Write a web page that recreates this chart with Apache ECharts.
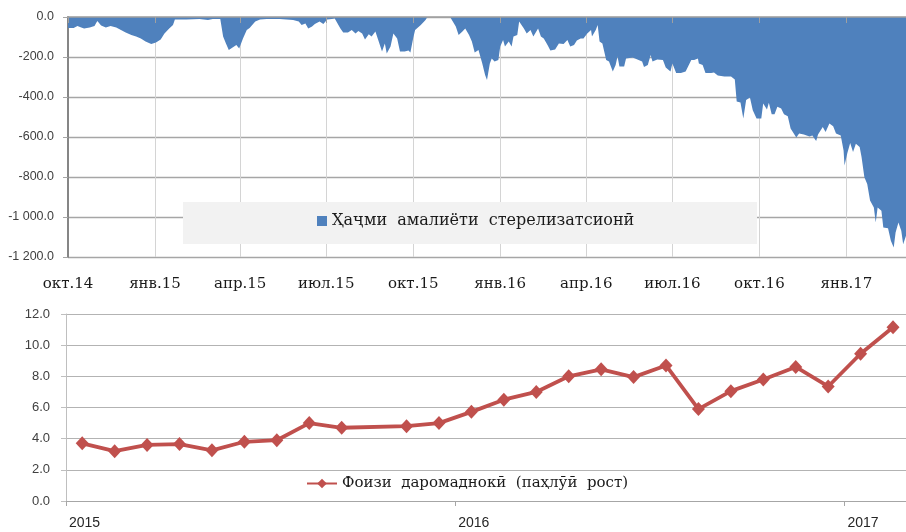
<!DOCTYPE html>
<html>
<head>
<meta charset="utf-8">
<script src="https://cdn.jsdelivr.net/npm/echarts@6/dist/echarts.min.js"></script>
<style>
  html, body { margin: 0; background: #fff; }
  #chart { width: 906px; height: 532px; }
</style>
</head>
<body>
<div id="chart"></div>
<script>
// top: sterilisation volume, x = days since 01.10.2014
const volDays = [
  0, 6, 10, 14, 17, 23, 28, 31, 35, 40,
  45, 51, 56, 61, 67, 72, 77, 82, 88, 93,
  98, 102, 107, 111, 113, 125, 139, 148, 153, 161,
  164, 167, 170, 174, 178, 181, 185, 189, 192, 198,
  203, 210, 224, 226, 231, 238, 244, 247, 251, 254,
  258, 261, 266, 270, 274, 279, 282, 288, 291, 296,
  300, 304, 307, 311, 314, 318, 321, 325, 328, 332,
  335, 337, 341, 344, 348, 351, 356, 360, 362, 365,
  367, 373, 378, 380, 404, 406, 410, 413, 417, 420,
  424, 427, 430, 434, 438, 441, 443, 446, 448, 451,
  455, 457, 460, 462, 466, 469, 471, 475, 477, 482,
  485, 489, 492, 497, 500, 503, 507, 510, 515, 519,
  524, 528, 531, 535, 538, 542, 545, 549, 553, 554,
  558, 560, 562, 565, 569, 572, 576, 579, 581, 583,
  588, 590, 597, 602, 607, 609, 613, 616, 618, 623,
  629, 632, 637, 639, 643, 648, 653, 659, 662, 666,
  667, 671, 674, 680, 683, 687, 694, 701, 705, 707,
  711, 714, 717, 718, 721, 724, 728, 733, 735, 739,
  741, 744, 747, 750, 754, 757, 761, 764, 770, 773,
  778, 784, 787, 791, 793, 798, 801, 805, 809, 812,
  817, 820, 821, 824, 827, 830, 833, 837, 839, 842,
  845, 848, 852, 854, 856, 860, 862, 867, 870, 873,
  875, 878, 881, 883, 886
];
const volValues = [
  -55, -55, -45, -52, -57, -52, -45, -20, -43, -52,
  -45, -52, -65, -77, -90, -98, -107, -123, -135, -128,
  -112, -82, -57, -40, -12, -12, -10, -15, -10, -10,
  -98, -132, -165, -152, -140, -157, -107, -65, -55, -23,
  -12, -10, -10, -3, -12, -15, -23, -40, -32, -57,
  -48, -35, -23, -35, -12, -10, -7, -57, -78, -78,
  -65, -82, -70, -82, -112, -86, -98, -73, -115, -173,
  -132, -182, -148, -82, -107, -173, -173, -167, -178, -105,
  -65, -40, -15, 0, 0, -5, -48, -90, -73, -57,
  -90, -123, -178, -165, -232, -290, -315, -232, -207, -223,
  -215, -148, -115, -148, -123, -148, -98, -90, -23, -57,
  -82, -65, -98, -57, -98, -107, -140, -167, -163, -132,
  -135, -115, -148, -140, -118, -107, -107, -82, -65, -98,
  -65, -40, -123, -132, -215, -222, -273, -240, -198, -248,
  -248, -207, -202, -212, -223, -250, -240, -190, -223, -212,
  -215, -253, -273, -232, -280, -280, -273, -215, -215, -207,
  -232, -240, -280, -280, -277, -293, -297, -297, -313, -423,
  -428, -507, -415, -416, -402, -466, -508, -508, -432, -462,
  -429, -486, -486, -449, -457, -486, -496, -558, -603, -583,
  -587, -597, -592, -620, -587, -550, -575, -533, -546, -583,
  -592, -667, -742, -680, -630, -675, -634, -650, -700, -801,
  -835, -918, -952, -1027, -952, -969, -1053, -1056, -1119, -1153,
  -1078, -1027, -1069, -1136, -1094
];
const quarterDays = [0, 92, 182, 273, 365, 457, 548, 639, 731, 823];
const quarterLabels = ['окт.14', 'янв.15', 'апр.15', 'июл.15', 'окт.15',
  'янв.16', 'апр.16', 'июл.16', 'окт.16', 'янв.17'];

// bottom: yield, x = months since Jan 2015 (Oct 2015 has no value)
const yieldMonths = [0, 1, 2, 3, 4, 5, 6, 7, 8, 10, 11, 12, 13, 14, 15, 16, 17, 18, 19, 20, 21, 22, 23, 24, 25];
const yieldValues = [3.7, 3.2, 3.6, 3.65, 3.25, 3.8, 3.9, 5.0, 4.7, 4.8, 5.0,
  5.72, 6.5, 7.0, 8.0, 8.45, 7.95, 8.7, 5.9, 7.05, 7.8, 8.6, 7.35, 9.45, 11.15];
const yearMonths = [0, 12, 24];
const yearLabels = ['2015', '2016', '2017'];

const volName = 'Ҳаҷми  амалиёти  стерелизатсионӣ';
const yieldName = 'Фоизи  даромаднокӣ  (паҳлӯӣ  рост)';

const serif = 'DejaVu Serif';
const sans = 'Liberation Sans';

function fmtVol(v) {
  let s = Math.abs(v).toFixed(1);
  let parts = s.split('.');
  parts[0] = parts[0].replace(/\B(?=(\d{3})+(?!\d))/g, ' ');
  return (v < 0 ? '-' : '') + parts.join('.');
}

let chart = echarts.init(document.getElementById('chart'));

chart.setOption({
  animation: false,
  backgroundColor: '#fff',
  graphic: [{
    type: 'rect',
    z: 1,
    shape: { x: 183, y: 202, width: 574, height: 42 },
    style: { fill: '#f2f2f2' }
  }],
  legend: [{
    data: [volName],
    left: 317,
    top: 213,
    padding: 0,
    icon: 'rect',
    itemWidth: 10,
    itemHeight: 10,
    itemGap: 5,
    textStyle: { fontFamily: serif, fontSize: 16, color: '#1a1a1a' }
  }, {
    data: [yieldName],
    left: 306,
    top: 476,
    padding: 0,
    itemWidth: 30,
    itemHeight: 12,
    textStyle: { fontFamily: serif, fontSize: 15, color: '#1a1a1a' }
  }],
  grid: [
    { left: 68, right: 0, top: 17, bottom: 275 },
    { left: 66, right: 0, top: 314, bottom: 31 }
  ],
  xAxis: [{
    type: 'value',
    gridIndex: 0,
    min: 0,
    max: 886,
    position: 'bottom',
    axisLine: { show: false },
    axisTick: { show: false, customValues: quarterDays },
    axisLabel: {
      customValues: quarterDays,
      formatter: v => quarterLabels[quarterDays.indexOf(v)],
      margin: 20,
      fontFamily: serif,
      fontSize: 15,
      color: '#1a1a1a'
    },
    splitLine: { show: true, lineStyle: { color: '#d4d4d4', width: 1 } }
  }, {
    type: 'value',
    gridIndex: 0,
    min: 0,
    max: 886,
    position: 'top',
    z: 10,
    axisLine: { show: true, lineStyle: { color: '#a0a0a0', width: 1.5 } },
    axisTick: { show: true, inside: true, length: 6, customValues: quarterDays, lineStyle: { color: '#a0a0a0' } },
    axisLabel: { show: false },
    splitLine: { show: false }
  }, {
    type: 'value',
    gridIndex: 1,
    min: 0,
    max: 25.9,
    axisLine: { show: true, lineStyle: { color: '#a6a6a6', width: 1 } },
    axisTick: { show: true, length: 5, customValues: yearMonths, lineStyle: { color: '#a6a6a6' } },
    axisLabel: {
      customValues: yearMonths,
      formatter: v => yearLabels[yearMonths.indexOf(v)],
      align: 'left',
      padding: [0, 0, 0, 3],
      margin: 15,
      fontFamily: sans,
      fontSize: 14,
      color: '#262626'
    },
    splitLine: { show: false }
  }],
  yAxis: [{
    type: 'value',
    gridIndex: 0,
    min: -1200,
    max: 0,
    interval: 200,
    axisLine: { show: true, lineStyle: { color: '#868686', width: 2 } },
    axisTick: { show: true, length: 5, lineStyle: { color: '#a6a6a6' } },
    axisLabel: { formatter: fmtVol, margin: 14, fontFamily: sans, fontSize: 12.5, color: '#404040' },
    splitLine: { lineStyle: { color: '#a6a6a6', width: 1.3 } }
  }, {
    type: 'value',
    gridIndex: 1,
    min: 0,
    max: 12,
    interval: 2,
    axisLine: { show: true, lineStyle: { color: '#bfbfbf', width: 1 } },
    axisTick: { show: true, length: 5, lineStyle: { color: '#bfbfbf' } },
    axisLabel: { formatter: v => v.toFixed(1), margin: 16, fontFamily: sans, fontSize: 13, color: '#404040' },
    splitLine: { lineStyle: { color: '#b3b3b3', width: 1 } }
  }],
  series: [{
    name: volName,
    type: 'line',
    xAxisIndex: 0,
    yAxisIndex: 0,
    data: volDays.map((d, i) => [d, volValues[i]]),
    showSymbol: false,
    symbol: 'none',
    color: '#4f81bd',
    lineStyle: { width: 0 },
    areaStyle: { color: '#4f81bd', opacity: 1 }
  }, {
    name: yieldName,
    type: 'line',
    xAxisIndex: 2,
    yAxisIndex: 1,
    data: yieldMonths.map((m, i) => [m + 0.5, yieldValues[i]]),
    symbol: 'diamond',
    symbolSize: [13, 14],
    color: '#c0504d',
    itemStyle: { color: '#c0504d' },
    lineStyle: { width: 3.8, color: '#c0504d' }
  }]
});
</script>
</body>
</html>
